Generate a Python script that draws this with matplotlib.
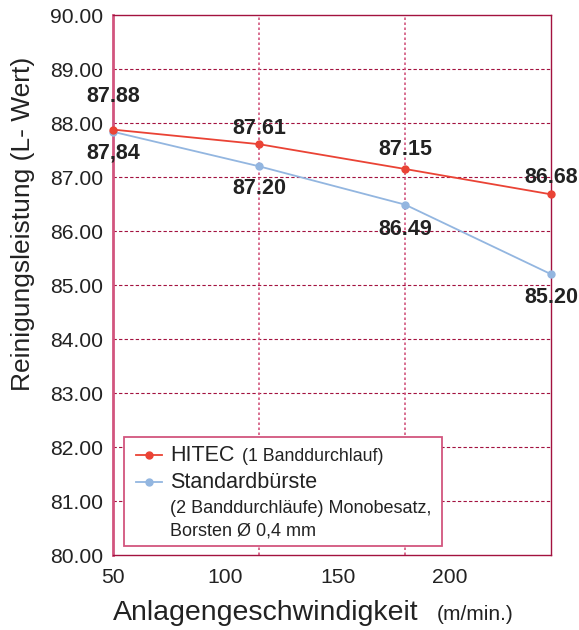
import matplotlib

matplotlib.use("Agg")
import matplotlib.pyplot as plt
from matplotlib.lines import Line2D
from matplotlib.patches import Rectangle

speed = [50, 115, 180, 245]
hitec = [87.88, 87.61, 87.15, 86.68]
standard = [87.84, 87.20, 86.49, 85.20]
hitec_labels = ["87.88", "87.61", "87.15", "86.68"]
standard_labels = ["87,84", "87.20", "86.49", "85.20"]
y_ticks = [80, 81, 82, 83, 84, 85, 86, 87, 88, 89, 90]
x_ticks = [50, 100, 150, 200]

RED = "#ea4335"
BLUE = "#93b6e0"
FRAME = "#a3123f"
PINK = "#d2557e"
INK = "#222222"

plt.rcParams["font.family"] = ["Liberation Sans", "DejaVu Sans"]

fig = plt.figure(figsize=(5.79, 6.30), dpi=100)
ax = fig.add_axes([0.195, 0.119, 0.757, 0.857])

ax.set_xlim(speed[0], speed[-1])
ax.set_ylim(y_ticks[0], y_ticks[-1])
ax.set_xticks(x_ticks)
ax.set_yticks(y_ticks)
ax.set_yticklabels([f"{v:.2f}" for v in y_ticks])
ax.tick_params(length=0, colors=INK, labelsize=15.2)
ax.tick_params(axis="y", pad=7)
ax.tick_params(axis="x", pad=9)

for y in y_ticks[1:-1]:
    ax.axhline(y, color=FRAME, lw=0.8, ls=(0, (3, 2)), zorder=1)
for x in speed[1:-1]:
    ax.axvline(x, color=PINK, lw=1.2, ls=(0, (1.5, 1.5)), zorder=1)

for side in ["top", "right", "bottom"]:
    ax.spines[side].set_color(FRAME)
    ax.spines[side].set_linewidth(1.0)
ax.spines["left"].set_color(PINK)
ax.spines["left"].set_linewidth(2.0)

ax.plot(speed, standard, color=BLUE, lw=1.3, marker="o", ms=5, zorder=3, clip_on=False)
ax.plot(speed, hitec, color=RED, lw=1.3, marker="o", ms=5, zorder=4, clip_on=False)

# value labels: offsets in points above / below each marker
above = [24, 11, 14, 12]
below = [-15, -16, -18, -17]
label_kw = dict(fontsize=15.5, fontweight="bold", color=INK, ha="center", va="center")
for x, y, s, dy in zip(speed, hitec, hitec_labels, above):
    ax.annotate(s, (x, y), xytext=(0, dy), textcoords="offset points", **label_kw)
for x, y, s, dy in zip(speed, standard, standard_labels, below):
    ax.annotate(s, (x, y), xytext=(0, dy), textcoords="offset points", **label_kw)

ax.set_ylabel("Reinigungsleistung (L- Wert)", fontsize=19, color=INK, va="center")
ax.yaxis.set_label_coords(-0.205, 0.613)
ax.set_xlabel("Anlagengeschwindigkeit", fontsize=20.5, color=INK, va="center")
ax.xaxis.set_label_coords(0.349, -0.107)
ax.text(0.74, -0.111, "(m/min.)", transform=ax.transAxes, fontsize=15,
        color=INK, ha="left", va="center")

# hand-made legend box
ax.add_patch(Rectangle((0.025, 0.017), 0.726, 0.202, transform=ax.transAxes,
                       facecolor="white", edgecolor=PINK, lw=1.3, zorder=5))
for y, c in [(0.185, RED), (0.135, BLUE)]:
    ax.add_line(Line2D([0.053, 0.113], [y, y], transform=ax.transAxes, color=c,
                       lw=1.3, zorder=6))
    ax.plot([0.083], [y], transform=ax.transAxes, marker="o", ms=5, color=c, zorder=7)
ax.text(0.130, 0.185, "HITEC", transform=ax.transAxes, fontsize=15.5, va="center",
        color=INK, zorder=6)
ax.text(0.295, 0.182, "(1 Banddurchlauf)", transform=ax.transAxes, fontsize=12.8,
        va="center", color=INK, zorder=6)
ax.text(0.130, 0.135, "Standardbürste", transform=ax.transAxes, fontsize=15.5,
        va="center", color=INK, zorder=6)
ax.text(0.130, 0.087, "(2 Banddurchläufe) Monobesatz,", transform=ax.transAxes,
        fontsize=13, va="center", color=INK, zorder=6)
ax.text(0.130, 0.044, "Borsten Ø 0,4 mm", transform=ax.transAxes, fontsize=13,
        va="center", color=INK, zorder=6)

fig.savefig("out.png", dpi=100)
